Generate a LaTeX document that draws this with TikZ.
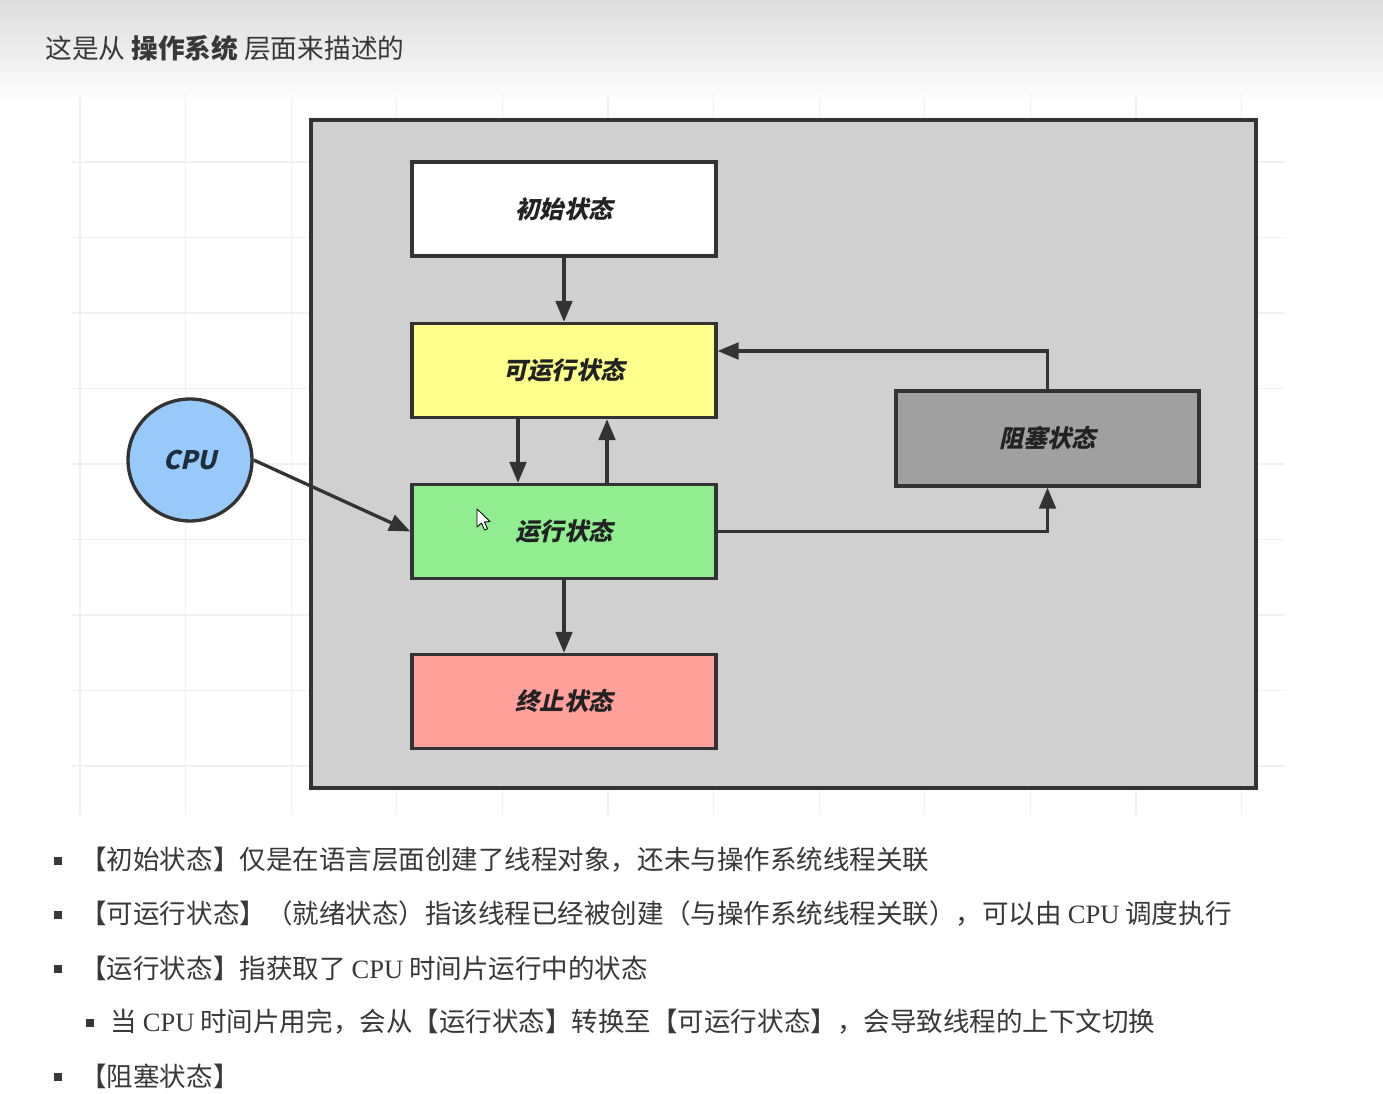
\documentclass[tikz,border=0pt]{standalone}
\usepackage{fontspec}
\setmainfont{Noto Sans CJK SC}
\newfontfamily\labelfont[FakeSlant=0.22]{Noto Sans CJK SC}
\newfontfamily\latinserif{Liberation Serif}
\usetikzlibrary{arrows.meta,shapes.geometric,calc}
\definecolor{edgec}{HTML}{333333}
\definecolor{txtc}{HTML}{222222}
\definecolor{bodyc}{HTML}{383838}
\definecolor{gridc}{HTML}{F0F0F0}
\definecolor{osfill}{HTML}{D0D0D0}
\definecolor{runnablefill}{HTML}{FFFF8C}
\definecolor{runningfill}{HTML}{90EE90}
\definecolor{termfill}{HTML}{FFA19A}
\definecolor{blockedfill}{HTML}{A0A0A0}
\definecolor{cpufill}{HTML}{99C9FA}
\definecolor{cputxt}{HTML}{1F2D3D}
\definecolor{headtop}{HTML}{DCDCDC}
\begin{document}
\begin{tikzpicture}[x=0.02cm,y=-0.02cm,
  statebox/.style={draw=edgec,line width=1.9pt,minimum width=6.08cm,minimum height=1.88cm,inner sep=0pt,
    font=\labelfont\bfseries\fontsize{13.8pt}{16pt}\selectfont,text=txtc},
  link/.style={draw=edgec,line width=1.9pt,-{Triangle[length=12pt,width=9.5pt]}},
  bullettext/.style={anchor=west,inner sep=0pt,text=bodyc,font=\fontsize{15.1pt}{18pt}\selectfont},
  bulletmark/.style={fill=bodyc,minimum size=4pt,inner sep=0pt}]
\useasboundingbox (0,0) rectangle (1383,1094);
\fill[white] (0,0) rectangle (1383,1094);
\shade[top color=headtop,bottom color=white] (0,0) rectangle (1383,105);
% faint canvas grid
\foreach \gx in {80,185.6,291.2,396.8,502.4,608,713.6,819.2,924.8,1030.4,1136,1241.6}
  \draw[gridc,line width=0.6pt] (\gx,95) -- (\gx,815);
\foreach \gy in {162,237.5,313,388.5,464,539.5,615,690.5,766}
  \draw[gridc,line width=0.6pt] (72,\gy) -- (1285,\gy);
% title
\node[anchor=west,inner sep=0pt,text=bodyc,font=\fontsize{15.2pt}{18pt}\selectfont] (title) at (45,48)
  {这是从 \textbf{操作系统} 层面来描述的};
% container
\node[draw=edgec,line width=2pt,fill=osfill,minimum width=18.9cm,minimum height=13.36cm,inner sep=0pt] (os) at (783.5,454) {};
% states
\node[statebox,fill=white] (init) at (564,209) {初始状态};
\node[statebox,fill=runnablefill] (runnable) at (564,370.5) {可运行状态};
\node[statebox,fill=runningfill] (running) at (564,531.5) {运行状态};
\node[statebox,fill=termfill] (term) at (564,701.5) {终止状态};
\node[statebox,fill=blockedfill,minimum width=6.06cm,minimum height=1.9cm] (blocked) at (1047.5,438.5) {阻塞状态};
\node[ellipse,draw=edgec,line width=1.9pt,fill=cpufill,minimum width=2.48cm,minimum height=2.44cm,inner sep=0pt,
  font=\labelfont\bfseries\fontsize{14.5pt}{16pt}\selectfont,text=cputxt] (cpu) at (190,460) {CPU};
% connectors
\draw[link] (init.south) -- (runnable.north);
\draw[link] ([xshift=-0.92cm]runnable.south) -- ([xshift=-0.92cm]running.north);
\draw[link] ([xshift=0.86cm]running.north) -- ([xshift=0.86cm]runnable.south);
\draw[link] (running.south) -- (term.north);
\draw[link] (running.east) -| (blocked.south);
\draw[link] (blocked.north) |- ([yshift=0.39cm]runnable.east);
\draw[link] (cpu.east) -- (running.west);
% mouse cursor
\draw[fill=white,draw=black,line width=0.5pt,line join=round]
  (477,509) -- (477,527) -- (481.5,523) -- (484.5,530) -- (487.5,528.8) -- (484.5,522) -- (490,521.5) -- cycle;
% bullet list
\node[bulletmark] (b1) at (58,861) {};
\node[bullettext] (t1) at (80,860) {【初始状态】仅是在语言层面创建了线程对象，还未与操作系统线程关联};
\node[bulletmark] (b2) at (58,915) {};
\node[bullettext] (t2) at (80,914) {【可运行状态】（就绪状态）指该线程已经被创建（与操作系统线程关联），可以由 {\latinserif CPU} 调度执行};
\node[bulletmark] (b3) at (58,969) {};
\node[bullettext] (t3) at (80,968) {【运行状态】指获取了 {\latinserif CPU} 时间片运行中的状态};
\node[bulletmark] (b4) at (90,1023) {};
\node[bullettext] (t4) at (110,1022) {当 {\latinserif CPU} 时间片用完，会从【运行状态】转换至【可运行状态】，会导致线程的上下文切换};
\node[bulletmark] (b5) at (58,1077) {};
\node[bullettext] (t5) at (80,1076) {【阻塞状态】};
\end{tikzpicture}
\end{document}
